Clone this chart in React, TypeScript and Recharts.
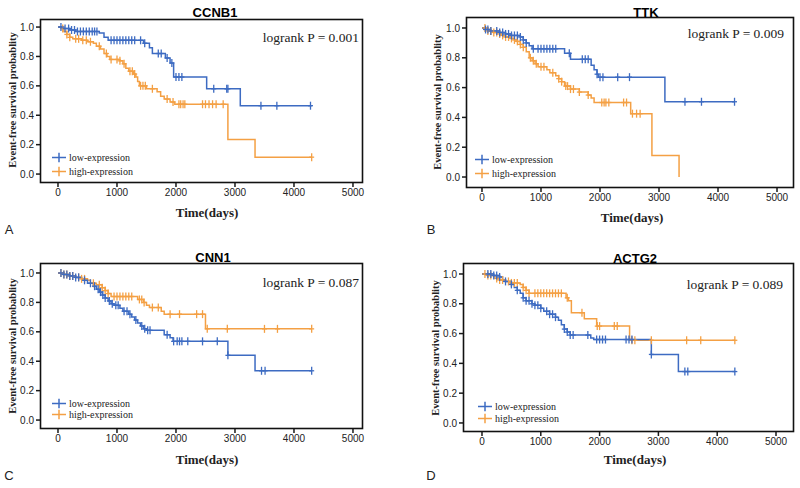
import React from 'react'
import { ComposedChart, Line, Scatter, XAxis, YAxis } from 'recharts'

type Step = [number, number]

const BLUE = '#3d6bc2'
const ORANGE = '#f4a044'

const xTicks = [0, 1000, 2000, 3000, 4000, 5000]
const yTicks = [0, 0.2, 0.4, 0.6, 0.8, 1.0]
const groupLabels = ['low-expression', 'high-expression']

// ---- CCNB1 ----
const ccnb1Low: Step[] = [[0, 1], [100, 0.99], [200, 0.98], [300, 0.97], [700, 0.96], [780, 0.93], [850, 0.91], [1450, 0.89], [1550, 0.86], [1600, 0.82], [1820, 0.79], [1900, 0.755], [1960, 0.66], [2520, 0.58], [3090, 0.465], [4300, 0.465]]
const ccnb1LowCensor = [50, 120, 180, 230, 280, 330, 380, 430, 480, 530, 580, 620, 660, 900, 950, 1000, 1050, 1100, 1150, 1200, 1250, 1300, 1400, 1470, 1700, 1750, 1850, 1930, 2000, 2050, 2100, 2640, 2860, 2880, 3440, 3710, 4280]
const ccnb1High: Step[] = [[0, 1], [60, 0.99], [100, 0.97], [150, 0.95], [200, 0.93], [250, 0.92], [400, 0.91], [500, 0.9], [600, 0.89], [650, 0.87], [720, 0.85], [780, 0.82], [830, 0.8], [880, 0.78], [1050, 0.77], [1100, 0.75], [1150, 0.72], [1200, 0.7], [1280, 0.68], [1320, 0.66], [1350, 0.63], [1380, 0.6], [1500, 0.58], [1680, 0.56], [1740, 0.53], [1800, 0.51], [1900, 0.49], [1980, 0.475], [2880, 0.235], [3340, 0.115], [4300, 0.115]]
const ccnb1HighCensor = [80, 150, 200, 300, 350, 420, 480, 550, 700, 820, 900, 1000, 1050, 1120, 1220, 1260, 1300, 1400, 1440, 1480, 1600, 1850, 1950, 2050, 2080, 2120, 2150, 2450, 2500, 2560, 2620, 2680, 2800, 4300]

// ---- TTK ----
const ttkLow: Step[] = [[0, 1], [50, 0.99], [150, 0.98], [300, 0.97], [400, 0.96], [500, 0.95], [650, 0.94], [700, 0.92], [750, 0.9], [800, 0.88], [850, 0.86], [1400, 0.83], [1500, 0.79], [1850, 0.75], [1900, 0.72], [1950, 0.69], [1970, 0.67], [3100, 0.505], [4280, 0.505]]
const ttkLowCensor = [60, 100, 150, 250, 300, 350, 400, 450, 500, 550, 600, 650, 700, 750, 870, 950, 1000, 1050, 1100, 1150, 1200, 1250, 1480, 1700, 1750, 1800, 1950, 2000, 2050, 2300, 2500, 3440, 3720, 4280]
const ttkHigh: Step[] = [[0, 1], [100, 0.98], [200, 0.97], [300, 0.96], [350, 0.95], [400, 0.94], [500, 0.93], [550, 0.92], [600, 0.91], [650, 0.89], [700, 0.87], [750, 0.84], [800, 0.8], [850, 0.78], [900, 0.76], [950, 0.74], [1100, 0.72], [1150, 0.7], [1250, 0.68], [1300, 0.66], [1350, 0.64], [1400, 0.61], [1500, 0.59], [1650, 0.57], [1800, 0.55], [1850, 0.53], [1900, 0.5], [2520, 0.425], [2880, 0.145], [3340, 0]]
const ttkHighCensor = [50, 100, 150, 200, 250, 300, 350, 400, 450, 500, 550, 600, 650, 700, 820, 870, 920, 1000, 1050, 1200, 1300, 1350, 1420, 1450, 1500, 1550, 1650, 1800, 2030, 2070, 2100, 2150, 2400, 2450, 2550, 2620, 2680]

// ---- CNN1 ----
const cnn1Low: Step[] = [[0, 1], [100, 0.99], [200, 0.98], [300, 0.97], [400, 0.96], [450, 0.95], [500, 0.93], [600, 0.91], [650, 0.89], [700, 0.87], [750, 0.85], [800, 0.83], [850, 0.81], [900, 0.79], [950, 0.78], [1050, 0.76], [1100, 0.74], [1200, 0.72], [1250, 0.7], [1300, 0.68], [1350, 0.66], [1400, 0.64], [1450, 0.62], [1500, 0.61], [1800, 0.58], [1900, 0.56], [1950, 0.535], [2880, 0.44], [3340, 0.335], [4300, 0.335]]
const cnn1LowCensor = [50, 100, 150, 200, 250, 300, 350, 450, 550, 620, 680, 720, 760, 800, 870, 920, 980, 1020, 1120, 1170, 1220, 1320, 1420, 1470, 1520, 1560, 1850, 1960, 2020, 2060, 2100, 2200, 2450, 2700, 2880, 3450, 3510, 4300]
const cnn1High: Step[] = [[0, 1], [100, 0.99], [200, 0.98], [300, 0.97], [400, 0.96], [500, 0.95], [550, 0.93], [650, 0.92], [750, 0.9], [800, 0.88], [850, 0.86], [900, 0.84], [1350, 0.82], [1450, 0.8], [1500, 0.78], [1550, 0.765], [1750, 0.74], [1800, 0.72], [2500, 0.62], [4300, 0.62]]
const cnn1HighCensor = [50, 100, 150, 200, 250, 350, 400, 450, 600, 700, 750, 800, 850, 950, 1000, 1050, 1100, 1150, 1200, 1250, 1380, 1420, 1460, 1600, 1700, 1900, 2060, 2350, 2450, 2530, 2870, 3500, 3720, 4300]

// ---- ACTG2 ----
const actg2Low: Step[] = [[0, 1], [200, 0.99], [300, 0.98], [350, 0.96], [400, 0.95], [500, 0.93], [550, 0.91], [600, 0.89], [650, 0.87], [700, 0.84], [750, 0.82], [850, 0.8], [900, 0.79], [1000, 0.77], [1050, 0.75], [1150, 0.73], [1250, 0.71], [1300, 0.69], [1350, 0.66], [1400, 0.63], [1450, 0.61], [1500, 0.59], [1850, 0.57], [1900, 0.56], [2880, 0.46], [3340, 0.345], [4300, 0.345]]
const actg2LowCensor = [100, 150, 200, 250, 300, 400, 500, 600, 700, 750, 800, 850, 900, 950, 1000, 1100, 1150, 1200, 1250, 1400, 1450, 1500, 1550, 1800, 1950, 2000, 2050, 2100, 2450, 2500, 2550, 2880, 3450, 3500, 4300]
const actg2High: Step[] = [[0, 1], [100, 0.99], [200, 0.98], [250, 0.97], [300, 0.96], [400, 0.95], [500, 0.94], [650, 0.93], [700, 0.91], [750, 0.89], [800, 0.87], [1430, 0.84], [1470, 0.82], [1520, 0.74], [1740, 0.7], [1950, 0.65], [2510, 0.555], [4300, 0.555]]
const actg2HighCensor = [50, 100, 150, 250, 300, 350, 450, 500, 550, 600, 700, 750, 800, 900, 950, 1000, 1050, 1100, 1150, 1200, 1250, 1300, 1350, 1450, 1700, 1960, 2000, 2250, 2300, 2550, 2600, 2880, 3480, 3720, 4300]

const survAt = (steps: Step[], t: number) => {
  let s = steps[0][1]
  for (const [st, sv] of steps) if (st <= t) s = sv
  return s
}

const toPts = (steps: Step[]) => steps.map(([t, s]) => ({ t, s }))
const censorPts = (steps: Step[], times: number[]) => times.map((t) => ({ t, s: survAt(steps, t) }))

const censorShape = (color: string) => (props: any) => {
  const { cx, cy } = props
  return (
    <g>
      <line x1={cx} x2={cx} y1={cy - 4} y2={cy + 4} stroke={color} strokeWidth={1.3} />
      <line x1={cx - 2.5} x2={cx + 2.5} y1={cy} y2={cy} stroke={color} strokeWidth={1.3} />
    </g>
  )
}

const serif = '"Liberation Serif", "Times New Roman", serif'
const sans = '"Liberation Sans", Arial, sans-serif'

interface PanelProps {
  title: string
  letter: string
  pText: string
  low: Step[]
  lowCensor: number[]
  high: Step[]
  highCensor: number[]
  ox: number
  oy: number
  box: [number, number, number, number]
  xDom: [number, number]
  yDom: [number, number]
  titlePos: [number, number]
  pPos: [number, number]
  legendX: number
  legendY: [number, number]
  yLabelPos: [number, number]
  xLabelPos: [number, number]
  letterPos: [number, number]
}

function LegendIcon({ color }: { color: string }) {
  return (
    <svg width={14} height={10} style={{ display: 'block' }}>
      <line x1={0} x2={14} y1={5} y2={5} stroke={color} strokeWidth={1.5} />
      <line x1={7} x2={7} y1={0} y2={10} stroke={color} strokeWidth={1.5} />
    </svg>
  )
}

function Panel(p: PanelProps) {
  const [bl, bt, br, bb] = p.box
  const W = 400
  const H = 248
  const margin = { top: bt - p.oy, left: bl - p.ox - 30, right: p.ox + W - br, bottom: p.oy + H - bb - 20 }
  const axisColor = '#1a1a1a'
  const tickStyle = { fontSize: 10, fill: '#222', fontFamily: sans }
  const center: React.CSSProperties = { position: 'absolute', transform: 'translate(-50%, -50%)', whiteSpace: 'nowrap' }
  return (
    <>
      <div style={{ position: 'absolute', left: p.ox, top: p.oy }}>
        <ComposedChart width={W} height={H} margin={margin}>
          <XAxis
            dataKey="t"
            type="number"
            domain={p.xDom}
            allowDataOverflow
            ticks={xTicks}
            tickSize={5}
            height={20}
            axisLine={false}
            tickLine={{ stroke: axisColor, strokeWidth: 1.5 }}
            tick={tickStyle}
            tickMargin={2}
          />
          <YAxis
            dataKey="s"
            type="number"
            domain={p.yDom}
            allowDataOverflow
            ticks={yTicks}
            tickFormatter={(v: number) => v.toFixed(1)}
            tickSize={5}
            width={30}
            axisLine={false}
            tickLine={{ stroke: axisColor, strokeWidth: 1.5 }}
            tick={tickStyle}
            tickMargin={2}
          />
          <Line data={toPts(p.high)} dataKey="s" type="stepAfter" stroke={ORANGE} strokeWidth={1.5} dot={false} isAnimationActive={false} />
          <Scatter data={censorPts(p.high, p.highCensor)} dataKey="s" shape={censorShape(ORANGE)} isAnimationActive={false} />
          <Line data={toPts(p.low)} dataKey="s" type="stepAfter" stroke={BLUE} strokeWidth={1.5} dot={false} isAnimationActive={false} />
          <Scatter data={censorPts(p.low, p.lowCensor)} dataKey="s" shape={censorShape(BLUE)} isAnimationActive={false} />
        </ComposedChart>
      </div>
      {/* plot frame */}
      <svg
        width={br - bl + 4}
        height={bb - bt + 4}
        style={{ position: 'absolute', left: bl - 2, top: bt - 2, pointerEvents: 'none', overflow: 'visible' }}
      >
        <rect x={1.5} y={1.5} width={br - bl + 1} height={bb - bt + 1} fill="none" stroke="#111" strokeWidth={1.6} />
      </svg>
      <div style={{ ...center, left: p.titlePos[0], top: p.titlePos[1], fontFamily: sans, fontWeight: 'bold', fontSize: 13 }}>{p.title}</div>
      <div style={{ position: 'absolute', right: 800 - p.pPos[0], top: p.pPos[1], transform: 'translateY(-50%)', whiteSpace: 'nowrap', fontFamily: serif, fontSize: 13.5, color: '#222' }}>
        {p.pText}
      </div>
      {[BLUE, ORANGE].map((c, i) => (
        <div key={c} style={{ position: 'absolute', left: p.legendX, top: p.legendY[i], transform: 'translateY(-50%)', display: 'flex', alignItems: 'center', gap: 3, fontFamily: serif, fontSize: 10, color: '#222', whiteSpace: 'nowrap' }}>
          <LegendIcon color={c} />
          <span>{groupLabels[i]}</span>
        </div>
      ))}
      <div style={{ ...center, left: p.yLabelPos[0], top: p.yLabelPos[1], transform: 'translate(-50%, -50%) rotate(-90deg)', fontFamily: serif, fontWeight: 'bold', fontSize: 10.5, color: '#222' }}>
        Event-free survival probablity
      </div>
      <div style={{ ...center, left: p.xLabelPos[0], top: p.xLabelPos[1], fontFamily: serif, fontWeight: 'bold', fontSize: 13, color: '#222' }}>Time(days)</div>
      <div style={{ ...center, left: p.letterPos[0], top: p.letterPos[1], fontFamily: sans, fontSize: 13, color: '#222' }}>{p.letter}</div>
    </>
  )
}

export default function App() {
  return (
    <div style={{ position: 'absolute', left: 0, top: 0, width: 800, height: 488, background: '#fff', overflow: 'hidden' }}>
      <Panel
        title="CCNB1" letter="A" pText="logrank P = 0.001"
        low={ccnb1Low} lowCensor={ccnb1LowCensor} high={ccnb1High} highCensor={ccnb1HighCensor}
        ox={0} oy={0} box={[41, 20, 362, 182]} xDom={[-288, 5153]} yDom={[-0.054, 1.048]}
        titlePos={[215, 12]} pPos={[359, 38]} legendX={52} legendY={[157, 171]}
        yLabelPos={[12, 100]} xLabelPos={[207, 213]} letterPos={[9, 229]}
      />
      <Panel
        title="TTK" letter="B" pText="logrank P = 0.009"
        low={ttkLow} lowCensor={ttkLowCensor} high={ttkHigh} highCensor={ttkHighCensor}
        ox={400} oy={0} box={[467, 18, 793, 187]} xDom={[-254, 5271]} yDom={[-0.067, 1.067]}
        titlePos={[646, 12]} pPos={[784, 34]} legendX={475} legendY={[159, 173]}
        yLabelPos={[437, 102]} xLabelPos={[632, 218]} letterPos={[431, 229]}
      />
      <Panel
        title="CNN1" letter="C" pText="logrank P = 0.087"
        low={cnn1Low} lowCensor={cnn1LowCensor} high={cnn1High} highCensor={cnn1HighCensor}
        ox={0} oy={240} box={[41, 264, 362, 428]} xDom={[-288, 5153]} yDom={[-0.054, 1.061]}
        titlePos={[213, 257]} pPos={[359, 283]} legendX={52} legendY={[403, 414]}
        yLabelPos={[12, 346]} xLabelPos={[207, 460]} letterPos={[9, 475]}
      />
      <Panel
        title="ACTG2" letter="D" pText="logrank P = 0.089"
        low={actg2Low} lowCensor={actg2LowCensor} high={actg2High} highCensor={actg2HighCensor}
        ox={400} oy={240} box={[464, 264, 793, 431]} xDom={[-306, 5289]} yDom={[-0.054, 1.067]}
        titlePos={[635, 258]} pPos={[783, 285]} legendX={478} legendY={[406, 418]}
        yLabelPos={[435, 348]} xLabelPos={[635, 460]} letterPos={[431, 475]}
      />
    </div>
  )
}
